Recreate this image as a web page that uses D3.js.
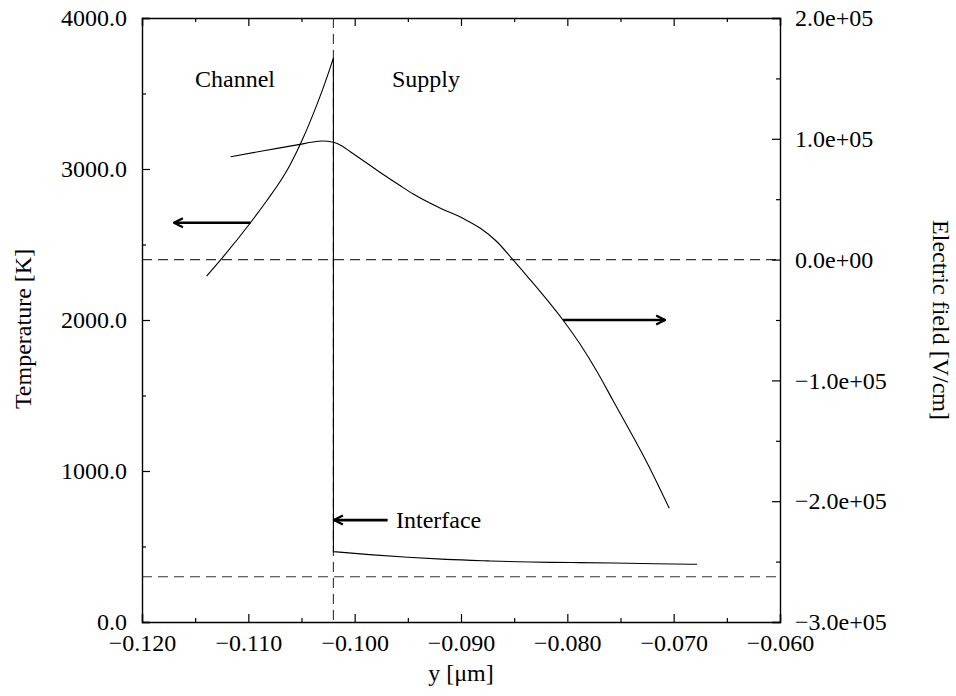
<!DOCTYPE html>
<html>
<head>
<meta charset="utf-8">
<script src="https://d3js.org/d3.v7.min.js"></script>
<style>
  html, body { margin: 0; padding: 0; background: #fff; }
  svg { display: block; font-family: "Liberation Serif", "Times New Roman", serif; }
  .axis path, .axis line { stroke: #000; }
  .axis text { font-family: "Liberation Serif", "Times New Roman", serif; font-size: 24px; fill: #000; }
</style>
</head>
<body>
<svg id="chart" width="956" height="696"></svg>
<script>
// Position across the structure (µm)
const xMajorTicks = [-0.120, -0.110, -0.100, -0.090, -0.080, -0.070, -0.060];
const xMinorTicks = [-0.115, -0.105, -0.095, -0.085, -0.075, -0.065];
const tempMajorTicks = [0, 1000, 2000, 3000, 4000];
const tempMinorTicks = [500, 1500, 2500, 3500];
const fieldMajorTicks = [-300000, -200000, -100000, 0, 100000, 200000];
const fieldMinorTicks = [-250000, -150000, -50000, 50000, 150000];

// Temperature profile, channel side (up to the interface)
const tempChannelY = [-0.11392, -0.11235, -0.10984, -0.10827, -0.10671, -0.10608, -0.10545,
                      -0.10483, -0.10420, -0.10357, -0.10295, -0.10232, -0.10200];
const tempChannelK = [2291, 2420, 2641, 2790, 2950, 3027, 3114,
                      3208, 3312, 3423, 3539, 3666, 3735];
// Temperature profile, supply side (from the interface)
const tempSupplyY = [-0.1020, -0.0986, -0.0950, -0.0914, -0.0875, -0.0835, -0.0796, -0.0757, -0.0718, -0.0678];
const tempSupplyK = [466, 446, 429, 415, 405, 397, 394, 391, 386, 382];

// Electric field profile
const fieldY = [-0.11166, -0.10843, -0.10514, -0.10411, -0.10304, -0.10200, -0.10119, -0.10044,
                -0.09887, -0.09731, -0.09574, -0.09449, -0.09198, -0.08978, -0.08821, -0.08664,
                -0.08508, -0.08351, -0.08194, -0.08038, -0.07881, -0.07724, -0.07568, -0.07411,
                -0.07254, -0.07041];
const fieldV = [85200, 90300, 95400, 97100, 98200, 97100, 94000, 89500,
                80000, 70400, 61300, 54300, 42700, 34000, 26100, 15000,
                -500, -16500, -33000, -50400, -69900, -92200, -117000, -141900,
                -167500, -205900];

// Reference levels
const interfaceY = -0.1020;
const ambientK = 300;
const zeroField = 0;

const svg = d3.select("#chart");
const L = 142, R = 780, T = 18, B = 622;

const x = d3.scaleLinear().domain([-0.120, -0.060]).range([L, R]);
const yT = d3.scaleLinear().domain([0, 4000]).range([B, T]);
const yE = d3.scaleLinear().domain([-300000, 200000]).range([B, T]);

const fmtX = d3.format(".3f");
const fmtT = d3.format(".1f");
function fmtE(v) {
  const s = d3.format(".1e")(Math.abs(v));          // e.g. 2.0e+5
  const m = s.match(/^([\d.]+)e([+-])(\d+)$/);
  const out = m[1] + "e" + m[2] + m[3].padStart(2, "0");
  return (v < 0 ? "\u2212" : "") + out;
}

// Open arrowheads
const defs = svg.append("defs");
defs.append("marker")
  .attr("id", "head")
  .attr("viewBox", "0 0 12 12")
  .attr("refX", 11).attr("refY", 6)
  .attr("markerWidth", 12).attr("markerHeight", 12)
  .attr("markerUnits", "userSpaceOnUse")
  .attr("orient", "auto")
  .append("path")
  .attr("d", "M2,1.5 L11,6 L2,10.5")
  .attr("fill", "none").attr("stroke", "#000").attr("stroke-width", 2.2);

// Dashed reference lines
const dash = svg.append("g").attr("stroke", "#333").attr("stroke-width", 1.1)
  .attr("stroke-dasharray", "10,6").attr("fill", "none");
dash.append("line").attr("x1", L).attr("x2", R).attr("y1", yE(zeroField)).attr("y2", yE(zeroField));
dash.append("line").attr("x1", L).attr("x2", R).attr("y1", yT(ambientK)).attr("y2", yT(ambientK));
dash.append("line").attr("x1", x(interfaceY)).attr("x2", x(interfaceY)).attr("y1", T).attr("y2", B);

// Curves
const tempLine = d3.line().x(d => x(d[0])).y(d => yT(d[1])).curve(d3.curveMonotoneX);
const fieldLine = d3.line().x(d => x(d[0])).y(d => yE(d[1])).curve(d3.curveMonotoneX);

// Temperature: channel branch, vertical drop at the interface, supply branch — one path
const channelD = tempLine(tempChannelY.map((v, i) => [v, tempChannelK[i]]));
const supplyD = tempLine(tempSupplyY.map((v, i) => [v, tempSupplyK[i]]));
svg.append("path")
  .attr("d", channelD + "L" + supplyD.slice(1))
  .attr("fill", "none").attr("stroke", "#000").attr("stroke-width", 1.1);

svg.append("path")
  .attr("d", fieldLine(fieldY.map((v, i) => [v, fieldV[i]])))
  .attr("fill", "none").attr("stroke", "#000").attr("stroke-width", 1.1);

// Axes (ticks pointing inward)
const gB = svg.append("g").attr("class", "axis").attr("transform", `translate(0,${B})`);
gB.call(d3.axisBottom(x).tickValues(xMajorTicks).tickSize(-8).tickPadding(12).tickFormat(fmtX));
gB.append("g").call(d3.axisBottom(x).tickValues(xMinorTicks).tickSize(-4).tickFormat(""))
  .call(g => g.select(".domain").remove());

const gTop = svg.append("g").attr("class", "axis").attr("transform", `translate(0,${T})`);
gTop.call(d3.axisTop(x).tickValues(xMajorTicks).tickSize(-8).tickFormat(""));
gTop.append("g").call(d3.axisTop(x).tickValues(xMinorTicks).tickSize(-4).tickFormat(""))
  .call(g => g.select(".domain").remove());

const gL = svg.append("g").attr("class", "axis").attr("transform", `translate(${L},0)`);
gL.call(d3.axisLeft(yT).tickValues(tempMajorTicks).tickSize(-8).tickPadding(15).tickFormat(fmtT));
gL.append("g").call(d3.axisLeft(yT).tickValues(tempMinorTicks).tickSize(-4).tickFormat(""))
  .call(g => g.select(".domain").remove());

const gR = svg.append("g").attr("class", "axis").attr("transform", `translate(${R},0)`);
gR.call(d3.axisRight(yE).tickValues(fieldMajorTicks).tickSize(-8).tickPadding(15).tickFormat(fmtE));
gR.append("g").call(d3.axisRight(yE).tickValues(fieldMinorTicks).tickSize(-4).tickFormat(""))
  .call(g => g.select(".domain").remove());

svg.selectAll(".axis .domain").attr("stroke-width", 1.4);
svg.selectAll(".axis .tick line").attr("stroke-width", 1.2);

// Arrows tying each curve to its axis
const arrows = svg.append("g").attr("stroke", "#000").attr("stroke-width", 2.6).attr("fill", "none");
arrows.append("line")
  .attr("x1", x(-0.1098)).attr("y1", yT(2644)).attr("x2", x(-0.1170)).attr("y2", yT(2644))
  .attr("marker-end", "url(#head)");
arrows.append("line")
  .attr("x1", x(-0.0804)).attr("y1", yE(-50000)).attr("x2", x(-0.0708)).attr("y2", yE(-50000))
  .attr("marker-end", "url(#head)");
arrows.append("line")
  .attr("x1", x(-0.0969)).attr("y1", yT(675)).attr("x2", x(interfaceY) + 0.5).attr("y2", yT(675))
  .attr("marker-end", "url(#head)");

// Region labels
const label = (tx, ty, s, anchor) => svg.append("text")
  .attr("x", tx).attr("y", ty).attr("font-size", 24).attr("text-anchor", anchor || "start").text(s);
label(195, 87, "Channel");
label(392, 87, "Supply");
label(396, 528, "Interface");

// Axis titles
svg.append("text").attr("x", (L + R) / 2).attr("y", 681).attr("font-size", 24)
  .attr("text-anchor", "middle").text("y [\u03bcm]");
svg.append("text").attr("transform", "translate(31,329) rotate(-90)").attr("font-size", 24)
  .attr("text-anchor", "middle").text("Temperature [K]");
svg.append("text").attr("transform", "translate(933,320) rotate(90)").attr("font-size", 24)
  .attr("text-anchor", "middle").text("Electric field [V/cm]");
</script>
</body>
</html>
